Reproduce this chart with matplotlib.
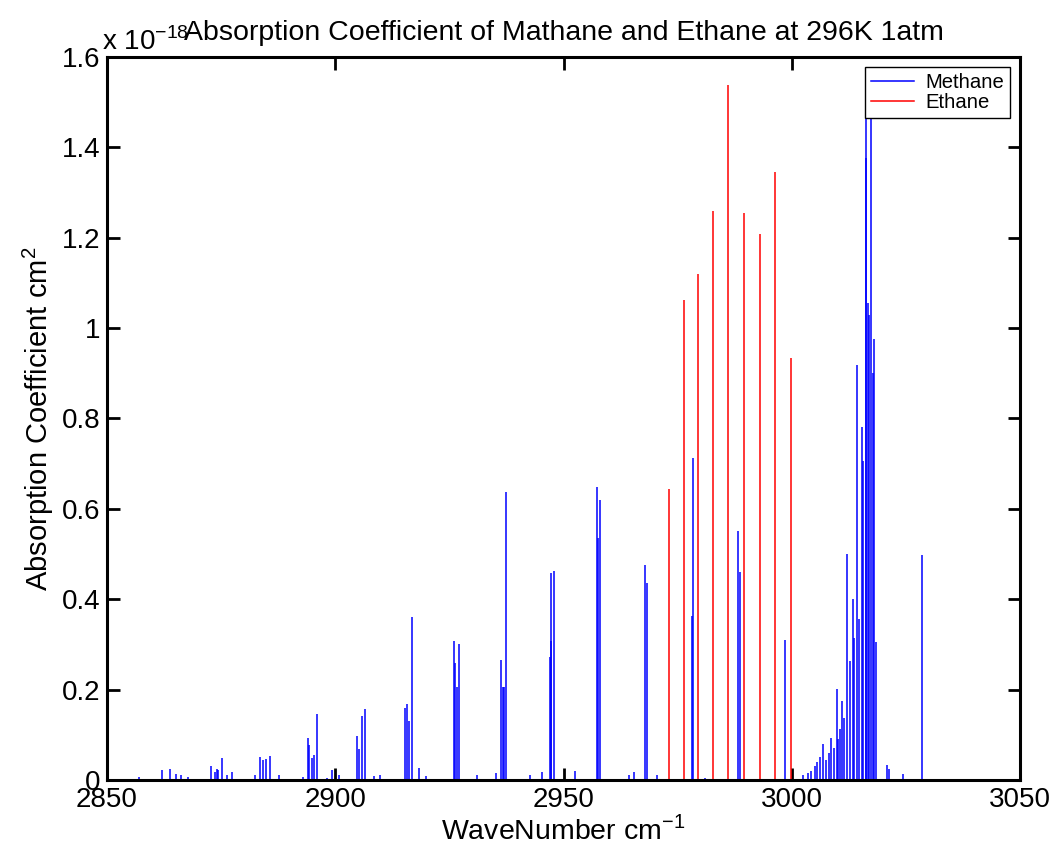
import numpy as np
import matplotlib
matplotlib.use('Agg')
import matplotlib.pyplot as plt
from matplotlib.ticker import FuncFormatter

plt.rcParams['font.family'] = ['Liberation Sans', 'DejaVu Sans']
plt.rcParams['mathtext.fontset'] = 'custom'
plt.rcParams['mathtext.rm'] = 'Liberation Sans'

# line positions (cm^-1) and peak heights (x 1e-18 cm^2)
methane_pos = [2856.9, 2862.0, 2863.9, 2865.0, 2866.1, 2867.7, 2872.7, 2873.7, 2874.0,
               2874.4, 2875.1, 2876.2, 2877.4, 2882.4, 2883.5, 2884.1, 2884.8, 2885.7,
               2887.7, 2892.9, 2894.1, 2894.3, 2894.9, 2895.3, 2896.1, 2898.1, 2899.2,
               2900.9, 2904.8, 2905.2, 2905.8, 2906.4, 2908.5, 2909.8, 2915.3, 2915.8,
               2916.2, 2916.8, 2918.3, 2919.9, 2925.9, 2926.3, 2926.7, 2927.2, 2931.0,
               2935.2, 2936.4, 2936.8, 2937.0, 2937.5, 2942.6, 2945.2, 2947.0, 2947.2,
               2947.3, 2947.8, 2952.5, 2957.3, 2957.6, 2957.9, 2964.3, 2965.4, 2967.8,
               2968.2, 2970.5, 2978.1, 2978.4, 2981.0, 2988.3, 2988.6, 2998.5, 3002.5,
               3003.5, 3004.3, 3005.0, 3005.6, 3006.2, 3006.9, 3007.6, 3008.2, 3008.6,
               3009.2, 3009.8, 3010.2, 3010.6, 3011.0, 3011.5, 3012.2, 3012.7, 3013.3,
               3013.7, 3014.3, 3014.7, 3015.3, 3015.6, 3016.2, 3016.3, 3016.8, 3017.0,
               3017.4, 3017.8, 3018.1, 3018.5, 3020.9, 3021.2, 3024.4, 3028.5]
methane_val = [0.006, 0.022, 0.024, 0.013, 0.011, 0.007, 0.031, 0.018, 0.025,
               0.022, 0.049, 0.010, 0.018, 0.011, 0.051, 0.044, 0.046, 0.053,
               0.010, 0.006, 0.092, 0.077, 0.049, 0.055, 0.145, 0.005, 0.021,
               0.012, 0.097, 0.069, 0.142, 0.156, 0.009, 0.012, 0.159, 0.169,
               0.131, 0.360, 0.026, 0.008, 0.307, 0.258, 0.205, 0.302, 0.011,
               0.015, 0.265, 0.205, 0.205, 0.637, 0.012, 0.018, 0.273, 0.308,
               0.457, 0.462, 0.020, 0.648, 0.535, 0.620, 0.011, 0.018, 0.476,
               0.436, 0.010, 0.363, 0.713, 0.005, 0.551, 0.460, 0.310, 0.010,
               0.015, 0.020, 0.030, 0.040, 0.050, 0.079, 0.045, 0.060, 0.094,
               0.070, 0.202, 0.090, 0.112, 0.175, 0.137, 0.500, 0.264, 0.400,
               0.315, 0.918, 0.356, 0.782, 0.705, 1.520, 1.376, 1.055, 1.028,
               1.500, 0.900, 0.976, 0.305, 0.033, 0.025, 0.014, 0.497]

ethane_pos = [2973.1, 2976.4, 2979.5, 2982.7, 2986.0, 2989.5, 2993.0, 2996.3, 2999.8]
ethane_val = [0.644, 1.062, 1.120, 1.259, 1.538, 1.255, 1.208, 1.345, 0.934]

x_range = [2850, 3040]

fig = plt.figure(figsize=(10.63, 8.61), dpi=100)
ax = fig.add_axes([0.1007, 0.0941, 0.8589, 0.8397])

ax.vlines(methane_pos, 0, methane_val, color='blue', lw=1.1)
ax.plot(x_range, [0, 0], color='blue', lw=1.1, label='Methane')
ax.vlines(ethane_pos, 0, ethane_val, color='red', lw=1.1)
ax.plot(x_range, [0, 0], color='red', lw=1.1, label='Ethane')

ax.set_xlim(2850, 3050)
ax.set_ylim(0, 1.6)
ax.set_xticks([2850, 2900, 2950, 3000, 3050])
ax.set_yticks([0, 0.2, 0.4, 0.6, 0.8, 1.0, 1.2, 1.4, 1.6])
ax.yaxis.set_major_formatter(FuncFormatter(lambda v, p: '%g' % v))
ax.tick_params(direction='in', length=9, width=2, labelsize=20,
               top=True, right=True, pad=5)
for s in ax.spines.values():
    s.set_linewidth(2.2)

ax.set_xlabel('WaveNumber cm$^{-1}$', fontsize=20.5, labelpad=2)
ax.set_ylabel('Absorption Coefficient cm$^{2}$', fontsize=21, labelpad=4)
fig.text(0.5306, 0.962, 'Absorption Coefficient of Mathane and Ethane at 296K 1atm',
         ha='center', va='center', fontsize=20.5)
fig.text(0.096, 0.951, 'x 10$^{-18}$', ha='left', va='center', fontsize=20)

leg = ax.legend(loc='upper right', fontsize=14.6, fancybox=False, framealpha=1,
                edgecolor='black', borderaxespad=0.5, handlelength=2.1,
                borderpad=0.3, labelspacing=0.05, handletextpad=0.55)
leg.get_frame().set_linewidth(1.0)
leg.set_zorder(5)

fig.savefig('out.png', dpi=100)
